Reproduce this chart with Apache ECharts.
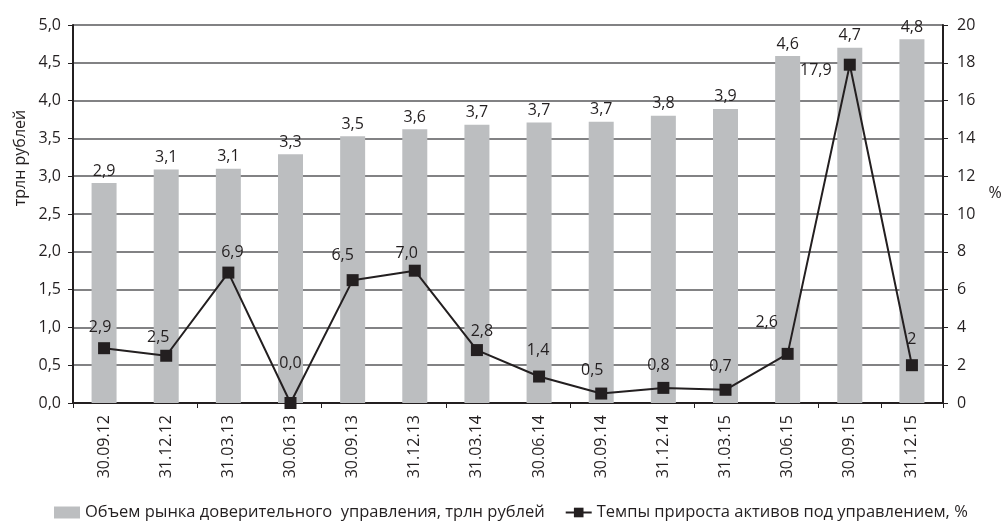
<!DOCTYPE html>
<html>
<head>
<meta charset="utf-8">
<script src="https://cdn.jsdelivr.net/npm/echarts@6/dist/echarts.min.js"></script>
<style>
html,body{margin:0;padding:0;background:#fff;}
#chart{width:1004px;height:525px;}
</style>
</head>
<body>
<div id="chart"></div>
<script>
const categories = ['30.09.12','31.12.12','31.03.13','30.06.13','30.09.13','31.12.13','31.03.14','30.06.14','30.09.14','31.12.14','31.03.15','30.06.15','30.09.15','31.12.15'];
const volumeValues = [2.91, 3.09, 3.10, 3.29, 3.53, 3.62, 3.68, 3.71, 3.72, 3.80, 3.89, 4.59, 4.70, 4.81];
const growthValues = [2.9, 2.5, 6.9, 0.0, 6.5, 7.0, 2.8, 1.4, 0.5, 0.8, 0.7, 2.6, 17.9, 2];
const growthLabels = ['2,9','2,5','6,9','0,0','6,5','7,0','2,8','1,4','0,5','0,8','0,7','2,6','17,9','2'];
const leftTicks = ['0,0','0,5','1,0','1,5','2,0','2,5','3,0','3,5','4,0','4,5','5,0'];
const leftAxisName = 'трлн рублей';
const rightAxisName = '%';
const volumeName = 'Объем рынка доверительного  управления, трлн рублей';
const growthName = 'Темпы прироста активов под управлением, %';

// label offsets (styling only)
const lblOffsets = [[-4,-21],[-8,-18],[4,-20],[0,-40],[-10,-25],[-8,-17],[5,-19],[-1,-26],[-9,-23],[-5,-22],[-5,-23],[-21,-31],[-34,6],[0,-26]];

const FONT = 'Open Sans';
const INK = '#231f20';
const chart = echarts.init(document.getElementById('chart'));
chart.setOption({
  animation: false,
  textStyle: {fontFamily: FONT, color: INK},
  grid: {left: 73, right: 61, top: 25, bottom: 122, containLabel: false},
  graphic: [
    {type: 'text', x: 20, y: 158, rotation: Math.PI / 2,
      style: {text: leftAxisName, fontSize: 16, fontFamily: FONT, fill: INK, align: 'center', verticalAlign: 'middle'}},
    {type: 'text', x: 995, y: 193,
      style: {text: rightAxisName, fontSize: 16, fontFamily: FONT, fill: INK, align: 'center', verticalAlign: 'middle'}}
  ],
  legend: {
    top: 504,
    left: 54,
    itemGap: 20,
    padding: 0,
    textStyle: {fontFamily: FONT, fontSize: 16.5, color: INK},
    data: [
      {name: volumeName, icon: 'rect', itemStyle: {color: '#bcbec0'}},
      {name: growthName}
    ],
    itemWidth: 26,
    itemHeight: 12
  },
  xAxis: {
    type: 'category',
    data: categories,
    axisLine: {lineStyle: {color: INK, width: 2}},
    axisTick: {show: true, interval: 1, length: 5, lineStyle: {color: INK, width: 1}},
    axisLabel: {rotate: 90, fontSize: 16, color: INK, margin: 12, interval: 0, fontFamily: FONT}
  },
  yAxis: [
    {
      type: 'value', min: 0, max: 5, interval: 0.5,
      axisLine: {show: true, lineStyle: {color: INK, width: 2}},
      axisTick: {show: true, length: 5, lineStyle: {color: INK}},
      axisLabel: {fontSize: 16, color: INK, margin: 12, formatter: (v) => leftTicks[Math.round(v*2)]},
      splitLine: {show: true, lineStyle: {color: '#58595b', width: 1.5}}
    },
    {
      type: 'value', min: 0, max: 20, interval: 2,
      axisLine: {show: true, lineStyle: {color: INK, width: 2}},
      axisTick: {show: true, length: 5, lineStyle: {color: INK}},
      axisLabel: {fontSize: 16, color: INK, margin: 14},
      splitLine: {show: false}
    }
  ],
  series: [
    {
      name: volumeName,
      type: 'bar',
      yAxisIndex: 0,
      data: volumeValues,
      barWidth: 25,
      itemStyle: {color: '#bcbec0'},
      label: {show: true, position: 'top', distance: 4, fontSize: 16, color: INK, fontFamily: FONT,
        formatter: (p) => p.value.toFixed(1).replace('.', ',')}
    },
    {
      name: growthName,
      type: 'line',
      yAxisIndex: 1,
      data: growthValues.map((v, i) => ({
        value: v,
        label: {show: true, position: 'inside', offset: lblOffsets[i], formatter: growthLabels[i]}
      })),
      symbol: 'rect',
      symbolSize: 12,
      lineStyle: {color: INK, width: 2},
      itemStyle: {color: INK},
      label: {fontSize: 16, color: INK, fontFamily: FONT},
      z: 5
    }
  ]
});
</script>
</body>
</html>
